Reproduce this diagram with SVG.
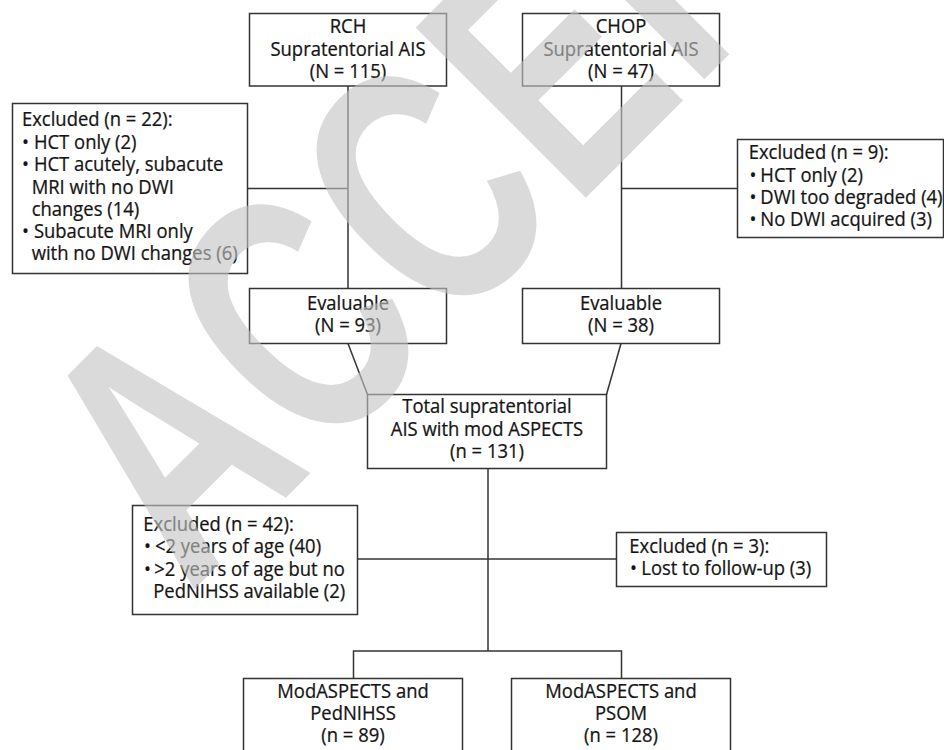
<svg xmlns="http://www.w3.org/2000/svg" width="944" height="750" viewBox="0 0 944 750">
<style>
.box{fill:#fff;stroke:#333;stroke-width:1.5}
.t{font-family:"Open Sans","Noto Sans",sans-serif;font-size:19.6px;fill:#141414;stroke:#141414;stroke-width:0.25;transform-box:fill-box;transform:scaleX(0.94)}
.t.c{text-anchor:middle;transform-origin:50% 50%}
.t.l{transform-origin:0% 50%}
.ln{fill:none;stroke:#333;stroke-width:1.5}
.wm{font-family:"Liberation Sans",Arial,sans-serif;font-weight:bold;font-size:350px;letter-spacing:6px;fill:#c4c4c4;fill-opacity:0.62}
</style>
<rect width="944" height="750" fill="#fff"/>
<g id="connectors">
<line class="ln" x1="348" y1="86" x2="348" y2="288.5"/>
<line class="ln" x1="247.5" y1="188.5" x2="348" y2="188.5"/>
<line class="ln" x1="621.5" y1="86" x2="621.5" y2="288.5"/>
<line class="ln" x1="621.5" y1="188.5" x2="737.5" y2="188.5"/>
<line class="ln" x1="348" y1="343.5" x2="367.5" y2="394.5"/>
<line class="ln" x1="621" y1="343.5" x2="606.5" y2="394.5"/>
<line class="ln" x1="488" y1="468.5" x2="488" y2="651"/>
<line class="ln" x1="357.5" y1="559" x2="616.5" y2="559"/>
<polyline class="ln" points="353.5,678.5 353.5,651 621.5,651 621.5,678.5"/>
</g>
<g id="rch">
<rect class="box" x="249.5" y="13.5" width="197" height="72.5"/>
<text class="t c" x="348" y="33.5">RCH</text>
<text class="t c" x="348" y="56">Supratentorial AIS</text>
<text class="t c" x="348" y="78.5">(N = 115)</text>
</g>
<g id="chop">
<rect class="box" x="522.5" y="13.5" width="197" height="72.5"/>
<text class="t c" x="621" y="33.5">CHOP</text>
<text class="t c" x="621" y="56">Supratentorial AIS</text>
<text class="t c" x="621" y="78.5">(N = 47)</text>
</g>
<g id="excl22">
<rect class="box" x="12.5" y="103.5" width="235" height="170"/>
<text class="t l" x="22" y="126.5">Excluded (n = 22):</text>
<text class="t l" y="149"><tspan x="22">•</tspan><tspan x="34.7">HCT only (2)</tspan></text>
<text class="t l" y="171.5"><tspan x="22">•</tspan><tspan x="34.7">HCT acutely, subacute</tspan></text>
<text class="t l" x="31.7" y="194">MRI with no DWI</text>
<text class="t l" x="31.7" y="216">changes (14)</text>
<text class="t l" y="238.5"><tspan x="22">•</tspan><tspan x="34.7">Subacute MRI only</tspan></text>
<text class="t l" x="31.7" y="260.5">with no DWI changes (6)</text>
</g>
<g id="excl9">
<rect class="box" x="737.5" y="139.5" width="206" height="98"/>
<text class="t l" x="748.7" y="159.3">Excluded (n = 9):</text>
<text class="t l" y="181.7"><tspan x="749.5">•</tspan><tspan x="761">HCT only (2)</tspan></text>
<text class="t l" y="204"><tspan x="749.5">•</tspan><tspan x="761">DWI too degraded (4)</tspan></text>
<text class="t l" y="226.5"><tspan x="749.5">•</tspan><tspan x="761">No DWI acquired (3)</tspan></text>
</g>
<g id="eval-rch">
<rect class="box" x="249.5" y="288.5" width="197" height="55"/>
<text class="t c" x="348" y="310">Evaluable</text>
<text class="t c" x="348" y="332.3">(N = 93)</text>
</g>
<g id="eval-chop">
<rect class="box" x="522.5" y="288.5" width="197" height="55"/>
<text class="t c" x="621" y="310">Evaluable</text>
<text class="t c" x="621" y="332.3">(N = 38)</text>
</g>
<g id="total">
<rect class="box" x="367.5" y="394.5" width="239" height="74"/>
<text class="t c" x="487" y="413.3">Total supratentorial</text>
<text class="t c" x="487" y="435.7">AIS with mod ASPECTS</text>
<text class="t c" x="487" y="458.3">(n = 131)</text>
</g>
<g id="excl42">
<rect class="box" x="132.5" y="505.5" width="225" height="109"/>
<text class="t l" x="143.3" y="531">Excluded (n = 42):</text>
<text class="t l" y="553.3"><tspan x="144">•</tspan><tspan x="155.7">&lt;2 years of age (40)</tspan></text>
<text class="t l" y="575.7"><tspan x="144">•</tspan><tspan x="155">&gt;2 years of age but no</tspan></text>
<text class="t l" x="153.3" y="597.7">PedNIHSS available (2)</text>
</g>
<g id="excl3">
<rect class="box" x="616.5" y="532.5" width="210" height="54"/>
<text class="t l" x="629.3" y="553.3">Excluded (n = 3):</text>
<text class="t l" y="575"><tspan x="630">•</tspan><tspan x="642">Lost to follow-up (3)</tspan></text>
</g>
<g id="pednihss">
<rect class="box" x="243.5" y="678.5" width="219" height="90"/>
<text class="t c" x="353" y="698.3">ModASPECTS and</text>
<text class="t c" x="353" y="720">PedNIHSS</text>
<text class="t c" x="353" y="741.7">(n = 89)</text>
</g>
<g id="psom">
<rect class="box" x="511.5" y="678.5" width="219" height="90"/>
<text class="t c" x="621" y="698.3">ModASPECTS and</text>
<text class="t c" x="621" y="720">PSOM</text>
<text class="t c" x="621" y="741.7">(n = 128)</text>
</g>
<g id="watermark">
<text class="wm" transform="translate(190,593.5) rotate(-45) scale(0.7,1)">ACCEPTED</text>
</g>
</svg>
